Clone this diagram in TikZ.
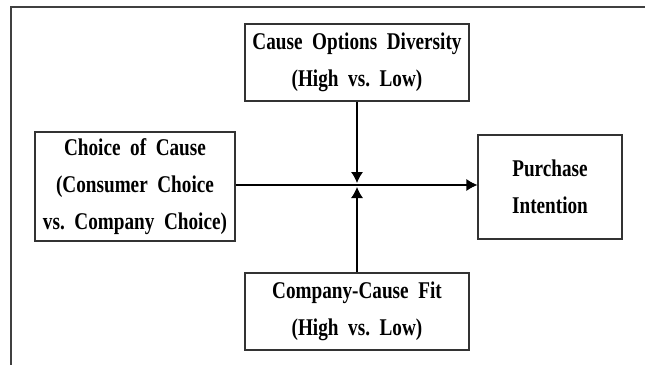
\documentclass[tikz,border=0pt]{standalone}
\usepackage{fontspec}
\setmainfont{Liberation Serif}
\newfontfamily\boxfont[FakeStretch=0.8]{Liberation Serif}
\usepackage{xcolor}
\usepackage{tikz}
\usetikzlibrary{arrows.meta}

\begin{document}
\begin{tikzpicture}[x=1pt,y=-1pt,line width=1.1pt,
	box/.style={draw=black!80,rectangle,align=center,inner sep=0pt,
		font=\boxfont\fontsize{24}{37}\selectfont\bfseries},
	arr/.style={-{Latex[length=11pt,width=12pt]}}]
		\useasboundingbox (0,0) rectangle (645,364);
		\draw[black!75] (11,7) rectangle (660,380);
		\node[box,minimum width=224pt,minimum height=77pt] (div) at (357,62.5) {Cause\ \ Options\ \ Diversity\\(High\ \ vs.\ \ Low)};
		\node[box,minimum width=200pt,minimum height=109pt] (choice) at (135,186.5) {Choice\ \ of\ \ Cause\\(Consumer\ \ Choice\\vs.\ \ Company\ \ Choice)};
		\node[box,minimum width=144pt,minimum height=104pt] (pi) at (550,187) {Purchase\\Intention};
		\node[box,minimum width=224pt,minimum height=77pt] (fit) at (357,311.5) {Company-Cause\ \ Fit\\(High\ \ vs.\ \ Low)};
		\coordinate (m) at (357,185);
	\draw[arr] (choice.east |- m) -- (pi.west |- m);
	\draw[arr] (div.south) -- ([yshift=2pt]m);
	\draw[arr] (fit.north) -- ([yshift=-2pt]m);
	\end{tikzpicture}
\end{document}
